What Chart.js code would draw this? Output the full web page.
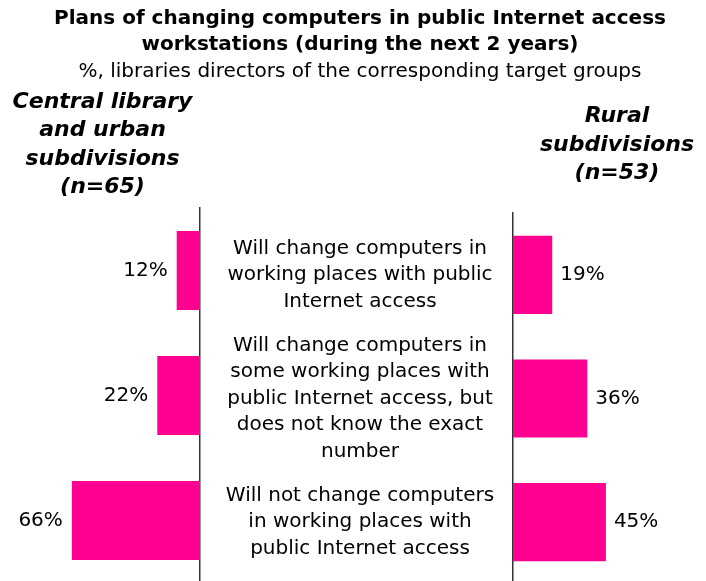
<!DOCTYPE html>
<html><head><meta charset="utf-8">
<script src="https://cdn.jsdelivr.net/npm/chart.js@4.4.0/dist/chart.umd.min.js"></script>
<style>
html,body{margin:0;padding:0;width:706px;height:581px;overflow:hidden;background:#fff;}
#wrap{position:relative;width:706px;height:581px;overflow:hidden;}
canvas{position:absolute;top:0;}
#cL{left:0;}
#cR{left:14px;}
</style></head><body>
<div id="wrap"><canvas id="cL" width="300" height="590"></canvas><canvas id="cR" width="692" height="590"></canvas></div>
<script>
const titleLines = ["Plans of changing computers in public Internet access", "workstations (during the next 2 years)"];
const subtitleText = "%, libraries directors of the corresponding target groups";
const categories = [
  ["Will change computers in", "working places with public", "Internet access"],
  ["Will change computers in", "some working places with", "public Internet access, but", "does not know the exact", "number"],
  ["Will not change computers", "in working places with", "public Internet access"]
];
const centralLabel = ["Central library", "and urban", "subdivisions", "(n=65)"];
const ruralLabel = ["Rural", "subdivisions", "(n=53)"];
const centralValues = [12, 22, 66];
const ruralValues = [19, 36, 45];

const FONT = "'DejaVu Sans', sans-serif";
const BAR = '#FF0090';
const AXIS = '#333333';

const valueLabels = {
  id: 'valueLabels',
  afterDatasetsDraw(chart, args, opts) {
    const ctx = chart.ctx;
    const meta = chart.getDatasetMeta(0);
    const data = chart.data.datasets[0].data;
    ctx.save();
    ctx.font = '20px ' + FONT;
    ctx.fillStyle = '#000';
    ctx.textBaseline = 'middle';
    ctx.textAlign = opts.side === 'left' ? 'right' : 'left';
    meta.data.forEach((bar, i) => {
      const x = opts.side === 'left' ? bar.x - 9 : bar.x + 8;
      ctx.fillText(data[i] + '%', x, bar.y);
    });
    ctx.restore();
  }
};
const groupLabel = {
  id: 'groupLabel',
  afterDraw(chart, args, opts) {
    const ctx = chart.ctx;
    ctx.save();
    ctx.font = 'italic bold 22px ' + FONT;
    ctx.fillStyle = '#000';
    ctx.textBaseline = 'middle';
    ctx.textAlign = 'center';
    opts.lines.forEach((l, i) => ctx.fillText(l, opts.x, opts.y + i * opts.lh));
    ctx.restore();
  }
};

// measure widest category line to centre labels at x=360
const mctx = document.createElement('canvas').getContext('2d');
mctx.font = '20px ' + FONT;
let widest = 0;
categories.forEach(c => c.forEach(l => { widest = Math.max(widest, mctx.measureText(l).width); }));
const labelPad = 153 - widest / 2;

function noPad(s) { s.paddingTop = 0; s.paddingBottom = 0; s.paddingLeft = 0; s.paddingRight = 0; }

new Chart(document.getElementById('cL'), {
  type: 'bar',
  data: { labels: categories, datasets: [{ data: centralValues, backgroundColor: BAR, borderWidth: 0, barPercentage: 0.79, categoryPercentage: 0.8 }] },
  options: {
    indexAxis: 'y', responsive: false, animation: false,
    layout: { padding: { top: 208, bottom: 7, left: 0, right: 100 } },
    scales: {
      x: { display: false, reverse: true, min: 0, max: 103 },
      y: { position: 'right', ticks: { display: false }, grid: { display: false, drawTicks: false },
           border: { display: true, color: AXIS, width: 1.5 }, afterFit(s) { s.width = 0; noPad(s); } }
    },
    plugins: { legend: { display: false }, tooltip: { enabled: false },
      valueLabels: { side: 'left' },
      groupLabel: { lines: centralLabel, x: 102.5, y: 102, lh: 28.5 } }
  },
  plugins: [valueLabels, groupLabel]
});

new Chart(document.getElementById('cR'), {
  type: 'bar',
  data: { labels: categories, datasets: [{ data: ruralValues, backgroundColor: BAR, borderWidth: 0, barPercentage: 0.79, categoryPercentage: 0.8 }] },
  options: {
    indexAxis: 'y', responsive: false, animation: false,
    layout: { padding: { top: 0, bottom: 6, left: 0, right: 0 } },
    scales: {
      x: { display: false, min: 0, max: 93.5 },
      y: { position: 'left',
           ticks: { crossAlign: 'center', padding: labelPad, color: '#000', autoSkip: false,
                    font: { family: FONT, size: 20, lineHeight: 1.325 } },
           grid: { display: false, drawTicks: false },
           border: { display: true, color: AXIS, width: 1.5 },
           afterFit(s) { s.width = 499; noPad(s); } }
    },
    plugins: { legend: { display: false }, tooltip: { enabled: false },
      title: { display: true, text: titleLines, color: '#000',
               font: { family: FONT, size: 20, weight: 'bold', lineHeight: 1.3 }, padding: { top: 6, bottom: 1 } },
      subtitle: { display: true, text: subtitleText, color: '#000',
               font: { family: FONT, size: 20, lineHeight: 1.3 }, padding: { top: 0, bottom: 128 } },
      valueLabels: { side: 'right' },
      groupLabel: { lines: ruralLabel, x: 603, y: 116.5, lh: 28.5 } }
  },
  plugins: [valueLabels, groupLabel]
});
</script>
</body></html>
